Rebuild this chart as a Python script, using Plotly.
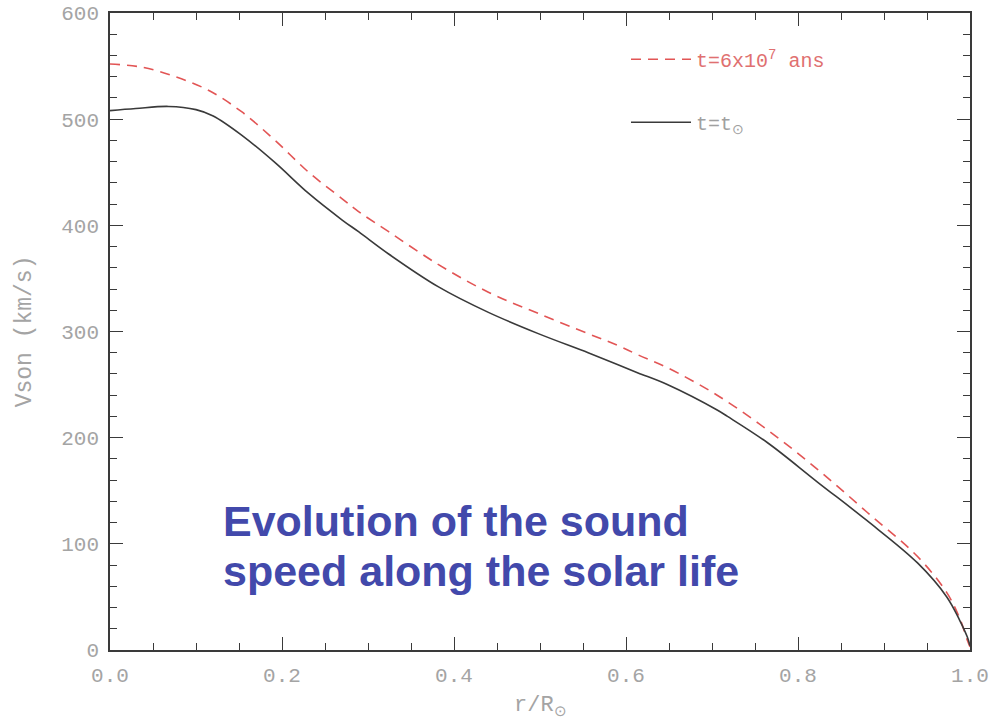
import plotly.graph_objects as go

# Data
r_now = [0, 0.03, 0.068, 0.1, 0.12, 0.153, 0.192, 0.231, 0.27, 0.289, 0.324, 0.382, 0.44,
         0.498, 0.556, 0.59, 0.614, 0.648, 0.706, 0.718, 0.765, 0.823, 0.88, 0.939, 0.973,
         0.988, 0.997, 1.0]
v_now = [508, 510, 512, 509, 503, 485, 459, 430, 405, 394, 373, 342, 318,
         298, 280, 269, 261, 250, 226, 220, 195, 158, 122, 82, 50,
         28, 12, 4]

r_young = [0, 0.037, 0.076, 0.115, 0.153, 0.192, 0.231, 0.27, 0.289, 0.324, 0.382, 0.44,
           0.498, 0.556, 0.59, 0.614, 0.648, 0.706, 0.765, 0.823, 0.88, 0.939, 0.973,
           0.988, 0.997, 1.0]
v_young = [552, 549, 540, 527, 507, 480, 450, 425, 413, 394, 363, 337,
           317, 298, 287, 278, 266, 240, 207, 170, 130, 88, 54,
           30, 9, 3]

x_ticks = [0.0, 0.2, 0.4, 0.6, 0.8, 1.0]
x_ticklabels = ["0.0", "0.2", "0.4", "0.6", "0.8", "1.0"]
y_ticks = [0, 100, 200, 300, 400, 500, 600]
y_ticklabels = ["0", "100", "200", "300", "400", "500", "600"]

name_young = '<span style="color:#e07070">t=6x10<sup>7</sup> ans</span>'
name_now = '<span style="color:#a0a0a0">t=t<sub>⊙</sub></span>'

MONO = "Liberation Mono"
GRAY = "#a4a4a4"

fig = go.Figure()
fig.add_trace(go.Scatter(x=r_young, y=v_young, mode="lines", name=name_young,
                         legendgroup="a",
                         line=dict(color="#e25555", width=1.6, dash="10px,7px",
                                   shape="spline", smoothing=1.0)))
fig.add_trace(go.Scatter(x=r_now, y=v_now, mode="lines", name=name_now,
                         legendgroup="b",
                         line=dict(color="#3a3a3a", width=1.6, shape="spline", smoothing=1.0)))

axis_common = dict(
    showgrid=False, zeroline=False, showline=True, linecolor="#3a3a3a", linewidth=1.5,
    mirror="ticks", ticks="inside", tickcolor="#3a3a3a", tickwidth=1.3, ticklen=13,
    tickfont=dict(family=MONO, size=21, color=GRAY), ticklabeloverflow="allow",
)

fig.update_layout(
    width=989, height=721,
    margin=dict(l=110, r=19, t=13, b=71, autoexpand=False),
    paper_bgcolor="white", plot_bgcolor="white",
    xaxis=dict(range=[0, 1], tickvals=x_ticks, ticktext=x_ticklabels,
               minor=dict(dtick=0.05, ticks="inside", ticklen=7, tickcolor="#3a3a3a", tickwidth=1.2),
               ticklabelstandoff=5, **axis_common),
    yaxis=dict(range=[0, 600], tickvals=y_ticks, ticktext=y_ticklabels,
               minor=dict(dtick=20, ticks="inside", ticklen=7, tickcolor="#3a3a3a", tickwidth=1.2),
               ticklabelstandoff=5, **axis_common),
    showlegend=True,
    legend=dict(x=0.6, y=0.958, xanchor="left", yanchor="top", itemwidth=60,
                bgcolor="rgba(0,0,0,0)", tracegroupgap=34, traceorder="grouped",
                font=dict(family=MONO, size=20, color=GRAY)),
    annotations=[
        dict(text="Vson (km/s)", xref="paper", yref="paper", x=-0.099, y=0.5,
             textangle=-90, showarrow=False, xanchor="center", yanchor="middle",
             font=dict(family=MONO, size=23, color=GRAY)),
        dict(text="r/R<sub>⊙</sub>", xref="paper", yref="paper", x=0.5, y=-0.09,
             showarrow=False, xanchor="center", yanchor="middle",
             font=dict(family=MONO, size=22, color=GRAY)),
        dict(text="<b>Evolution of the sound</b>", xref="paper", yref="paper",
             x=(222 - 111) / 861, y=(650 - 521) / 637, showarrow=False,
             xanchor="left", yanchor="middle",
             font=dict(family="Liberation Sans", size=43, color="#4249ab")),
        dict(text="<b>speed along the solar life</b>", xref="paper", yref="paper",
             x=(222 - 111) / 861, y=(650 - 571) / 637, showarrow=False,
             xanchor="left", yanchor="middle",
             font=dict(family="Liberation Sans", size=43, color="#4249ab")),
    ],
)

fig.write_html("out.html")
